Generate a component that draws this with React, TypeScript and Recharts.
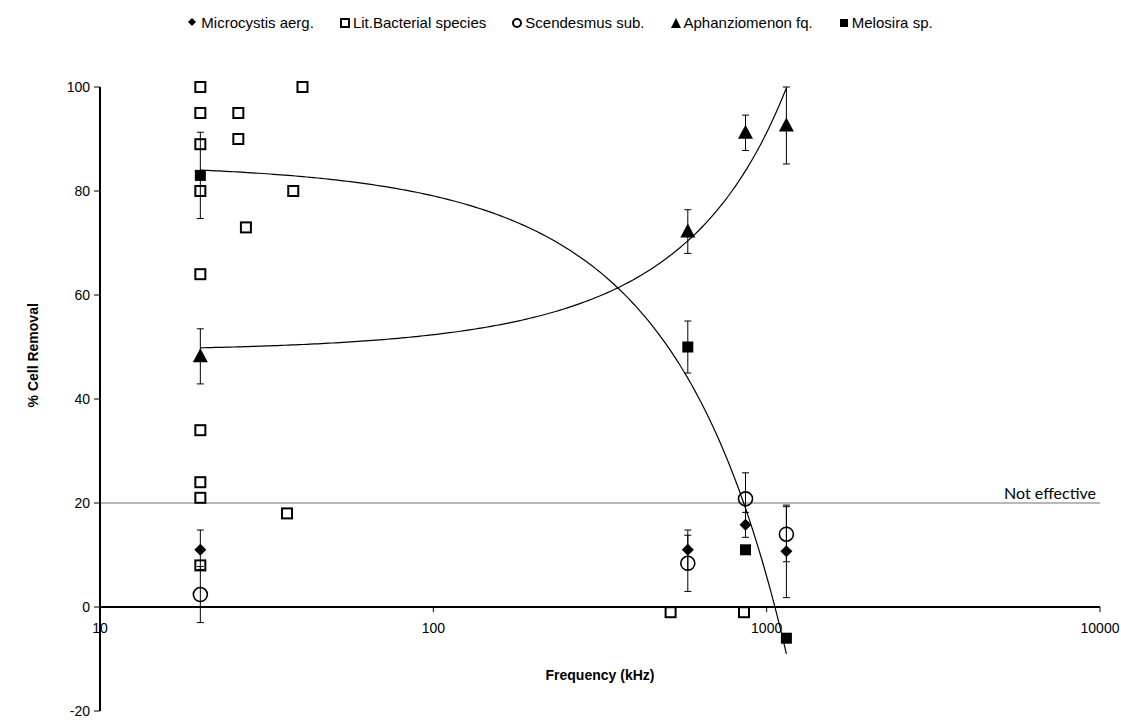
import React from 'react';
import {
  ScatterChart,
  Scatter,
  XAxis,
  YAxis,
  ReferenceLine,
  ReferenceDot,
  ErrorBar,
} from 'recharts';

// Axis ticks
const xTicks = [10, 100, 1000, 10000];
const yTicks = [-20, 0, 20, 40, 60, 80, 100];

// Microcystis aerg.
const microcystisFreq = [20, 580, 864, 1146];
const microcystisRemoval = [11, 11, 15.8, 10.7];
const microcystisErr = [3.8, 3.8, 2.4, 8.9];

// Literature values for bacterial species
const bacterialFreq = [20, 20, 20, 20, 20, 20, 20, 20, 20, 26, 26, 27.4, 36.4, 38, 40.5, 515, 855];
const bacterialRemoval = [100, 95, 89, 80, 64, 34, 24, 21, 8, 95, 90, 73, 18, 80, 100, -1, -1];

// Scendesmus sub.
const scenedesmusFreq = [20, 580, 864, 1146];
const scenedesmusRemoval = [2.4, 8.4, 20.8, 14];
const scenedesmusErr = [5.4, 5.4, 5, 5.3];

// Aphanziomenon fq.
const aphanFreq = [20, 580, 864, 1146];
const aphanRemoval = [48.2, 72.2, 91.2, 92.6];
const aphanErr = [5.3, 4.2, 3.4, 7.4];

// Melosira sp.
const melosiraFreq = [20, 580, 864, 1146];
const melosiraRemoval = [83, 50, 11, -6];
const melosiraErr = [8.3, 5, 0, 0];

const NOT_EFFECTIVE = 20;

type Pt = { f: number; v: number; e?: number };

const toPoints = (fs: number[], vs: number[], es?: number[]): Pt[] =>
  fs.map((f, i) => ({ f, v: vs[i], e: es ? es[i] : undefined }));

// Exponential least-squares trendline: y = a * exp(b x)
function fitExponential(xs: number[], ys: number[]) {
  const n = xs.length;
  const ly = ys.map((y) => Math.log(y));
  const mx = xs.reduce((s, x) => s + x, 0) / n;
  const my = ly.reduce((s, y) => s + y, 0) / n;
  let sxy = 0;
  let sxx = 0;
  for (let i = 0; i < n; i++) {
    sxy += (xs[i] - mx) * (ly[i] - my);
    sxx += (xs[i] - mx) * (xs[i] - mx);
  }
  const b = sxy / sxx;
  const a = Math.exp(my - b * mx);
  return (x: number) => a * Math.exp(b * x);
}

// Second-order polynomial least-squares trendline: y = c0 + c1 x + c2 x^2
function fitQuadratic(xs: number[], ys: number[]) {
  const S = [0, 0, 0, 0, 0];
  const T = [0, 0, 0];
  xs.forEach((x, i) => {
    for (let k = 0; k < 5; k++) S[k] += Math.pow(x, k);
    for (let k = 0; k < 3; k++) T[k] += Math.pow(x, k) * ys[i];
  });
  const M = [
    [S[0], S[1], S[2]],
    [S[1], S[2], S[3]],
    [S[2], S[3], S[4]],
  ];
  const det3 = (m: number[][]) =>
    m[0][0] * (m[1][1] * m[2][2] - m[1][2] * m[2][1]) -
    m[0][1] * (m[1][0] * m[2][2] - m[1][2] * m[2][0]) +
    m[0][2] * (m[1][0] * m[2][1] - m[1][1] * m[2][0]);
  const D = det3(M);
  const coef = [0, 1, 2].map((c) => {
    const m = M.map((row, r) => row.map((v, k) => (k === c ? T[r] : v)));
    return det3(m) / D;
  });
  return (x: number) => coef[0] + coef[1] * x + coef[2] * x * x;
}

function sampleCurve(fn: (x: number) => number, x0: number, x1: number, n = 160): Pt[] {
  const l0 = Math.log10(x0);
  const l1 = Math.log10(x1);
  const out: Pt[] = [];
  for (let i = 0; i <= n; i++) {
    const f = Math.pow(10, l0 + ((l1 - l0) * i) / n);
    out.push({ f, v: fn(f) });
  }
  return out;
}

const microcystisData = toPoints(microcystisFreq, microcystisRemoval, microcystisErr);
const bacterialData = toPoints(bacterialFreq, bacterialRemoval);
const scenedesmusData = toPoints(scenedesmusFreq, scenedesmusRemoval, scenedesmusErr);
const aphanData = toPoints(aphanFreq, aphanRemoval, aphanErr);
const melosiraData = toPoints(melosiraFreq, melosiraRemoval, melosiraErr);

const aphanTrend = sampleCurve(
  fitExponential(aphanFreq, aphanRemoval),
  Math.min(...aphanFreq),
  Math.max(...aphanFreq)
);
const melosiraTrend = sampleCurve(
  fitQuadratic(melosiraFreq, melosiraRemoval),
  Math.min(...melosiraFreq),
  Math.max(...melosiraFreq)
);

// Marker shapes
const Diamond = (p: any) => {
  const { cx, cy } = p;
  const r = 6;
  return <polygon points={`${cx},${cy - r} ${cx + r},${cy} ${cx},${cy + r} ${cx - r},${cy}`} fill="#000" />;
};
const OpenSquare = (p: any) => (
  <rect x={p.cx - 5} y={p.cy - 5} width={10} height={10} fill="none" stroke="#000" strokeWidth={2} />
);
const OpenCircle = (p: any) => <circle cx={p.cx} cy={p.cy} r={7} fill="none" stroke="#000" strokeWidth={1.6} />;
const Triangle = (p: any) => {
  const { cx, cy } = p;
  return <polygon points={`${cx},${cy - 8} ${cx + 7.5},${cy + 6} ${cx - 7.5},${cy + 6}`} fill="#000" />;
};
const FilledSquare = (p: any) => <rect x={p.cx - 5.5} y={p.cy - 5.5} width={11} height={11} fill="#000" />;
const NoMarker = () => <g />;

const FONT = '"Liberation Sans", Arial, sans-serif';

const legendItems: { label: string; icon: React.ReactNode }[] = [
  { label: 'Microcystis aerg.', icon: <polygon points="4,0 8,4 4,8 0,4" fill="#000" /> },
  { label: 'Lit.Bacterial species', icon: <rect x={1} y={1} width={8} height={8} fill="none" stroke="#000" strokeWidth={2} /> },
  { label: 'Scendesmus sub.', icon: <circle cx={5} cy={5} r={4} fill="none" stroke="#000" strokeWidth={2} /> },
  { label: 'Aphanziomenon fq.', icon: <polygon points="5,0 10,10 0,10" fill="#000" /> },
  { label: 'Melosira sp.', icon: <rect x={1} y={1} width={8} height={8} fill="#000" /> },
];

const YTitle = (props: any) => {
  const vb = props.viewBox || {};
  const x = vb.x - 7;
  const y = vb.y + vb.height * 0.43;
  return (
    <text
      x={x}
      y={y}
      transform={`rotate(-90 ${x} ${y})`}
      textAnchor="middle"
      dominantBaseline="central"
      fontFamily={FONT}
      fontSize={14}
      fontWeight="bold"
      fill="#000"
    >
      % Cell Removal
    </text>
  );
};

export default function App() {
  return (
    <div style={{ position: 'absolute', left: 0, top: 0, width: 1121, height: 720, background: '#fff', fontFamily: FONT }}>
      <div
        style={{
          position: 'absolute',
          left: 0,
          top: 14,
          width: 1121,
          display: 'flex',
          justifyContent: 'center',
          gap: 26,
          fontSize: 15,
          lineHeight: '18px',
          color: '#000',
        }}
      >
        {legendItems.map((it) => (
          <div key={it.label} style={{ display: 'flex', alignItems: 'center', gap: 3 }}>
            <svg width={10} height={10}>{it.icon}</svg>
            <span>{it.label}</span>
          </div>
        ))}
      </div>

      <ScatterChart width={1121} height={720} margin={{ top: 87, right: 21, bottom: 9, left: 40 }}>
        <XAxis dataKey="f" type="number" scale="log" domain={[10, 10000]} ticks={xTicks} hide />
        <YAxis
          dataKey="v"
          type="number"
          domain={[-20, 100]}
          ticks={yTicks}
          interval={0}
          width={60}
          axisLine={{ stroke: '#000', strokeWidth: 2 }}
          tickLine={{ stroke: '#000', strokeWidth: 1 }}
          tickSize={6}
          tickMargin={4}
          tick={{ fontSize: 14, fill: '#000', fontFamily: FONT }}
          label={<YTitle />}
        />

        <ReferenceLine
          y={NOT_EFFECTIVE}
          stroke="#a0a0a0"
          strokeWidth={1.5}
          label={{
            value: 'Not effective',
            position: 'insideBottomRight',
            offset: 4,
            fontSize: 16,
            fontFamily: 'Lato, "Open Sans", sans-serif',
            fill: '#000',
          }}
        />
        <ReferenceLine y={0} stroke="#000" strokeWidth={2} />
        {xTicks.map((t) => (
          <ReferenceLine
            key={`xt-${t}`}
            segment={[
              { x: t, y: 0 },
              { x: t, y: -1 },
            ]}
            stroke="#000"
            strokeWidth={1}
          />
        ))}
        {xTicks.map((t) => (
          <ReferenceDot
            key={`xl-${t}`}
            x={t}
            y={0}
            r={0}
            fill="none"
            stroke="none"
            label={{ value: String(t), position: 'bottom', offset: 16, fontSize: 14, fill: '#000', fontFamily: FONT }}
          />
        ))}

        <Scatter
          data={aphanTrend}
          line={{ stroke: '#000', strokeWidth: 1.2 }}
          lineType="joint"
          shape={NoMarker}
          isAnimationActive={false}
        />
        <Scatter
          data={melosiraTrend}
          line={{ stroke: '#000', strokeWidth: 1.2 }}
          lineType="joint"
          shape={NoMarker}
          isAnimationActive={false}
        />

        <Scatter data={microcystisData} shape={Diamond} isAnimationActive={false}>
          <ErrorBar dataKey="e" direction="y" width={3.5} stroke="#000" strokeWidth={1} />
        </Scatter>
        <Scatter data={bacterialData} shape={OpenSquare} isAnimationActive={false} />
        <Scatter data={scenedesmusData} shape={OpenCircle} isAnimationActive={false}>
          <ErrorBar dataKey="e" direction="y" width={3.5} stroke="#000" strokeWidth={1} />
        </Scatter>
        <Scatter data={aphanData} shape={Triangle} isAnimationActive={false}>
          <ErrorBar dataKey="e" direction="y" width={3.5} stroke="#000" strokeWidth={1} />
        </Scatter>
        <Scatter data={melosiraData} shape={FilledSquare} isAnimationActive={false}>
          <ErrorBar dataKey="e" direction="y" width={3.5} stroke="#000" strokeWidth={1} />
        </Scatter>
      </ScatterChart>

      <div
        style={{
          position: 'absolute',
          left: 100,
          width: 1000,
          top: 667,
          textAlign: 'center',
          fontSize: 14,
          fontWeight: 'bold',
          color: '#000',
        }}
      >
        Frequency (kHz)
      </div>
    </div>
  );
}
